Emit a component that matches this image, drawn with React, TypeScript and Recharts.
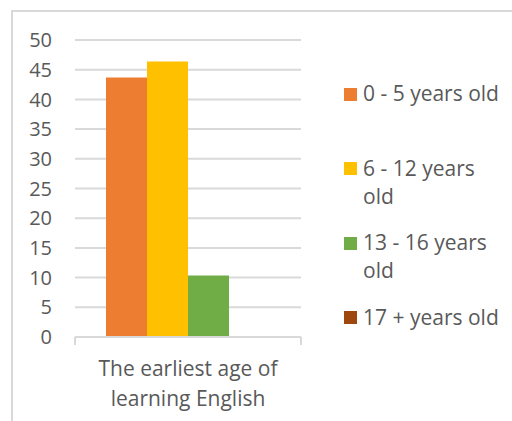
import { BarChart, Bar, XAxis, YAxis, CartesianGrid, Legend } from 'recharts'

const CATEGORIES = ['The earliest age of learning English']
const SERIES = ['0 - 5 years old', '6 - 12 years old', '13 - 16 years old', '17 + years old']
const VALUES = [43.7, 46.4, 10.35, 0]
const COLORS = ['#ED7D31', '#FFC000', '#70AD47', '#9E480E']
const Y_TICKS = [0, 5, 10, 15, 20, 25, 30, 35, 40, 45, 50]

const data = CATEGORIES.map((name) => {
  const row: Record<string, string | number> = { name }
  SERIES.forEach((_, i) => {
    row[`s${i}`] = VALUES[i]
  })
  return row
})

const TEXT = '#595959'
const GRID = '#d9d9d9'
const FONT = "'Open Sans', sans-serif"

// half of the single category band, used for the edge ticks under the axis
const HALF_BAND = 113

function CategoryTick({ x, y, payload }: any) {
  const words: string[] = String(payload.value).split(' ')
  const lines = [words.slice(0, 4).join(' '), words.slice(4).join(' ')]
  return (
    <g>
      <line x1={x - HALF_BAND} x2={x - HALF_BAND} y1={y} y2={y + 8} stroke={GRID} strokeWidth={2} />
      <line x1={x + HALF_BAND} x2={x + HALF_BAND} y1={y} y2={y + 8} stroke={GRID} strokeWidth={2} />
      <text x={x} y={y + 39} textAnchor="middle" fill={TEXT} fontSize={21}>
        {lines.map((l, i) => (
          <tspan key={i} x={x} dy={i === 0 ? 0 : 30}>
            {l}
          </tspan>
        ))}
      </text>
    </g>
  )
}

function LegendContent({ payload }: any) {
  // keep the series order, not the library's alphabetical sort
  const items = [...(payload ?? [])].sort(
    (a: any, b: any) => SERIES.indexOf(a.value) - SERIES.indexOf(b.value),
  )
  return (
    <div>
      {items.map((p: any, i: number) => (
        <div key={i} style={{ height: 74.67, display: 'flex', alignItems: 'flex-start' }}>
          <span
            style={{ width: 13, height: 13, background: p.color, marginTop: 8.5, marginRight: 6, flexShrink: 0 }}
          />
          <span style={{ width: 142, lineHeight: '28px', fontSize: 21, color: TEXT }}>{p.value}</span>
        </div>
      ))}
    </div>
  )
}

export default function App() {
  return (
    <div
      style={{
        position: 'absolute',
        left: 0,
        top: 0,
        width: 512,
        height: 421,
        overflow: 'hidden',
        background: '#fff',
        fontFamily: FONT,
      }}
    >
      <div
        style={{
          position: 'absolute',
          left: 11,
          top: 10,
          width: 520,
          height: 430,
          borderTop: `2px solid ${GRID}`,
          borderLeft: `2px solid ${GRID}`,
        }}
      />
      <BarChart
        width={512}
        height={421}
        data={data}
        margin={{ top: 40, right: 211, bottom: 54, left: 0 }}
        barCategoryGap={31}
        barGap={0}
      >
        <CartesianGrid vertical={false} stroke={GRID} strokeWidth={2} />
        <XAxis
          dataKey="name"
          height={30}
          axisLine={{ stroke: GRID, strokeWidth: 2 }}
          tickLine={false}
          tickSize={0}
          tickMargin={0}
          tick={<CategoryTick />}
          interval={0}
        />
        <YAxis
          width={75}
          domain={[0, 50]}
          ticks={Y_TICKS}
          interval={0}
          axisLine={false}
          tickLine={false}
          tickSize={0}
          tickMargin={23}
          tick={{ fill: TEXT, fontSize: 20 }}
        />
        <Legend
          layout="vertical"
          align="center"
          verticalAlign="middle"
          content={<LegendContent />}
          wrapperStyle={{ left: 344, top: 79, width: 168 }}
        />
        {SERIES.map((s, i) => (
          <Bar key={s} dataKey={`s${i}`} name={s} fill={COLORS[i]} isAnimationActive={false} />
        ))}
      </BarChart>
    </div>
  )
}
